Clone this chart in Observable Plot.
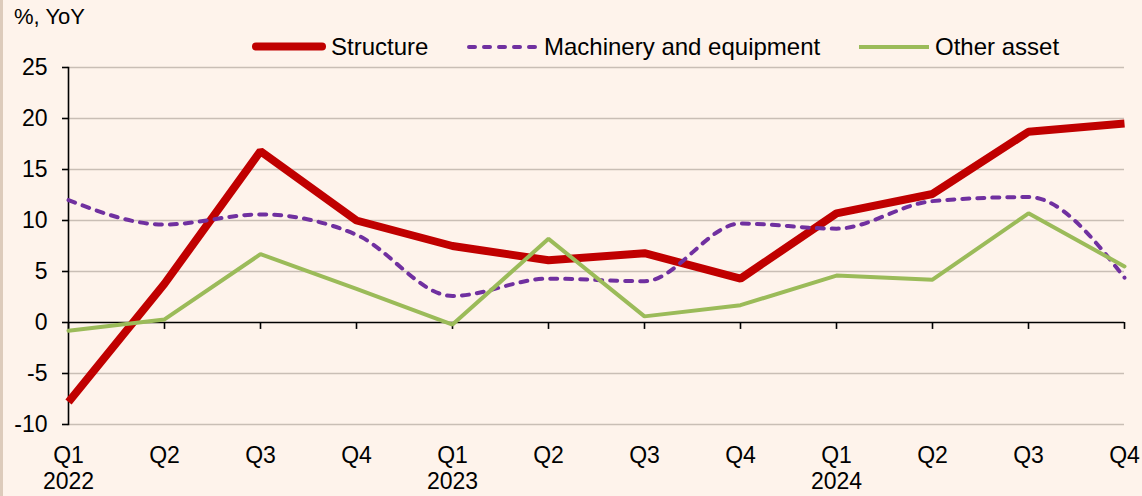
<!DOCTYPE html>
<html>
<head>
<meta charset="utf-8">
<script src="https://cdn.jsdelivr.net/npm/d3@7"></script>
<script src="https://cdn.jsdelivr.net/npm/@observablehq/plot@0.6"></script>
<style>
  html, body { margin: 0; padding: 0; background: #FEF3EB; width: 1142px; height: 496px; overflow: hidden; }
  #edge { position: absolute; left: 0; top: 0; width: 3px; height: 496px; background: #DDCBBB; }
  #header { display: block; position: absolute; left: 0; top: 0; overflow: visible; z-index: 2; }
  #chart { position: absolute; left: 0; top: 57px; }
  #chart svg { display: block; }
  text { font-family: Arial, "Liberation Sans", sans-serif; }
</style>
</head>
<body>
<div id="edge"></div>
<div id="chart"></div>
<svg id="header" width="1142" height="66"></svg>
<script>
// ---- data ----
const periods = ["2022 Q1","2022 Q2","2022 Q3","2022 Q4","2023 Q1","2023 Q2","2023 Q3","2023 Q4","2024 Q1","2024 Q2","2024 Q3","2024 Q4"];
const quarterLabels = ["Q1","Q2","Q3","Q4","Q1","Q2","Q3","Q4","Q1","Q2","Q3","Q4"];
const yearLabels = ["2022","","","","2023","","","","2024","","",""];
const structure = [-7.8, 3.8, 16.8, 10.0, 7.5, 6.1, 6.8, 4.3, 10.7, 12.6, 18.7, 19.5];
const machinery = [12.0, 9.6, 10.6, 8.6, 2.6, 4.3, 4.05, 9.7, 9.2, 11.9, 12.3, 4.4];
const otherAsset = [-0.8, 0.3, 6.7, 3.3, -0.2, 8.2, 0.6, 1.7, 4.6, 4.2, 10.7, 5.5];
const yTicks = [-10, -5, 0, 5, 10, 15, 20, 25];
const gridTicks = [-10, -5, 5, 10, 15, 20, 25];
const seriesNames = ["Structure", "Machinery and equipment", "Other asset"];
const yUnit = "%, YoY";

const colors = {structure: "#C00000", machinery: "#7030A0", other: "#9BBB59"};

const rows = (vals) => periods.map((p, i) => ({period: p, value: vals[i]}));

// ---- header (unit label + legend) ----
const ns = "http://www.w3.org/2000/svg";
const header = document.getElementById("header");
function el(tag, attrs, txt) {
  const e = document.createElementNS(ns, tag);
  for (const k in attrs) e.setAttribute(k, attrs[k]);
  if (txt != null) e.textContent = txt;
  header.appendChild(e);
  return e;
}
el("text", {x: 14, y: 24, "font-size": 22, fill: "#000"}, yUnit);
// legend
el("line", {x1: 256, x2: 322, y1: 46.5, y2: 46.5, stroke: colors.structure, "stroke-width": 8, "stroke-linecap": "round"});
el("text", {x: 331, y: 54.5, "font-size": 24, fill: "#000"}, seriesNames[0]);
el("line", {x1: 469, x2: 536, y1: 47, y2: 47, stroke: colors.machinery, "stroke-width": 4, "stroke-dasharray": "6,9", "stroke-linecap": "round"});
el("text", {x: 544, y: 54.5, "font-size": 24, fill: "#000"}, seriesNames[1]);
el("line", {x1: 859, x2: 929, y1: 47, y2: 47, stroke: colors.other, "stroke-width": 4});
el("text", {x: 935, y: 54.5, "font-size": 24, fill: "#000"}, seriesNames[2]);

// ---- chart ----
const chart = Plot.plot({
  width: 1142,
  height: 439,
  marginTop: 10,
  marginLeft: 68,
  marginRight: 18,
  marginBottom: 72,
  style: {background: "transparent", fontFamily: "Arial, 'Liberation Sans', sans-serif", fontSize: "23px", color: "#000", overflow: "visible"},
  x: {type: "point", domain: periods, padding: 0},
  y: {domain: [-10, 25]},
  marks: [
    Plot.ruleY(gridTicks, {stroke: "#C9BEB5", strokeWidth: 1.6}),
    Plot.ruleY([0], {stroke: "#000", strokeWidth: 1.6}),
    Plot.frame({anchor: "left", stroke: "#000", strokeWidth: 1.6}),
    Plot.ruleX(periods, {x: d => d, y1: 0, y2: -0.68, stroke: "#000", strokeWidth: 1.6}),
    Plot.axisY({ticks: yTicks, tickSize: 6, tickPadding: 15, stroke: "#000", strokeWidth: 1.6, strokeOpacity: 1, label: null, fontSize: 23,
      tickFormat: d => String(d)}),
    Plot.axisX({tickSize: 0, tickPadding: 20, label: null, fontSize: 23, lineHeight: 1.12,
      tickFormat: (d) => {
        const k = periods.indexOf(d);
        return yearLabels[k] ? quarterLabels[k] + "\n" + yearLabels[k] : quarterLabels[k];
      }}),
    Plot.line(rows(structure), {x: "period", y: "value", stroke: colors.structure, strokeWidth: 8, strokeLinejoin: "miter", strokeLinecap: "butt"}),
    Plot.line(rows(machinery), {x: "period", y: "value", stroke: colors.machinery, strokeWidth: 4, strokeDasharray: "7,8", curve: "monotone-x", strokeLinecap: "round"}),
    Plot.line(rows(otherAsset), {x: "period", y: "value", stroke: colors.other, strokeWidth: 4, strokeLinejoin: "miter"})
  ]
});
document.getElementById("chart").appendChild(chart);
</script>
</body>
</html>
